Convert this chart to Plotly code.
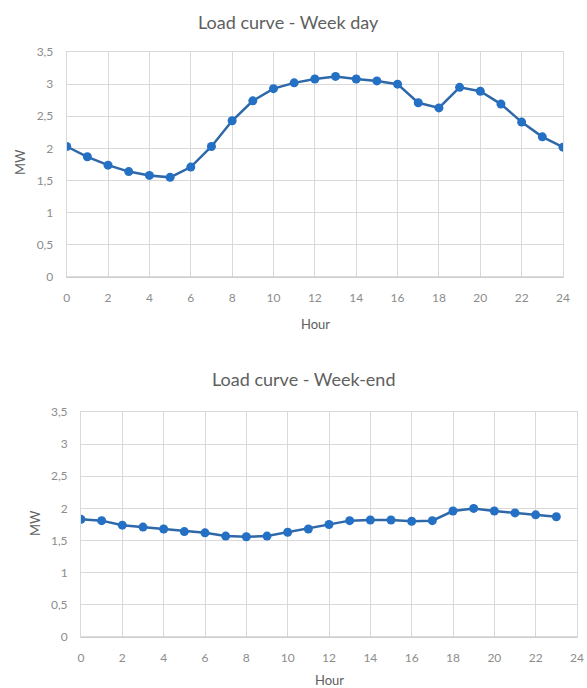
import plotly.graph_objects as go

hours_weekday = list(range(0, 25))
load_weekday = [2.03, 1.87, 1.74, 1.64, 1.58, 1.55, 1.71, 2.03, 2.43, 2.74, 2.93, 3.02, 3.08,
                3.12, 3.08, 3.05, 3.00, 2.71, 2.63, 2.95, 2.89, 2.69, 2.41, 2.18, 2.02]

hours_weekend = list(range(0, 24))
load_weekend = [1.83, 1.81, 1.74, 1.71, 1.68, 1.64, 1.62, 1.57, 1.56, 1.57, 1.63, 1.68,
                1.75, 1.81, 1.82, 1.82, 1.80, 1.81, 1.96, 2.00, 1.96, 1.93, 1.90, 1.87]

titles = ["Load curve - Week day", "Load curve - Week-end"]
x_title = "Hour"
y_title = "MW"

W, H = 587, 688
LINE = "#2F68A8"
MARK = "#2370C4"
GRID = "#D9D9D9"
TICK = "#8C8C8C"
TXT = "#606060"
FONT = "Lato"

fig = go.Figure()
fig.add_trace(go.Scatter(x=hours_weekday, y=load_weekday, mode="lines+markers",
                         line=dict(color=LINE, width=2.5),
                         marker=dict(color=MARK, size=9),
                         xaxis="x", yaxis="y", showlegend=False))
fig.add_trace(go.Scatter(x=hours_weekend, y=load_weekend, mode="lines+markers",
                         line=dict(color=LINE, width=2.5),
                         marker=dict(color=MARK, size=9),
                         xaxis="x2", yaxis="y2", showlegend=False))

def px_x(p):
    return p / W

def px_y(p):
    return 1 - p / H

axis_common = dict(showgrid=True, gridcolor=GRID, gridwidth=1, zeroline=False,
                   showline=True, linecolor=GRID, mirror=True, automargin=False,
                   tickfont=dict(family=FONT, size=12, color=TICK), fixedrange=True)

top = dict(x0=66.7, x1=563, y0=52, y1=277)
bot = dict(x0=81, x1=577, y0=412, y1=637)

fig.update_layout(
    width=W, height=H,
    margin=dict(l=0, r=0, t=0, b=0, autoexpand=False),
    paper_bgcolor="white", plot_bgcolor="white",
    separators=", ",
    font=dict(family=FONT, color=TXT),
    xaxis=dict(domain=[px_x(top["x0"]), px_x(top["x1"])], range=[0, 24], dtick=2,
               anchor="y", ticklabelstandoff=10, **axis_common),
    yaxis=dict(domain=[px_y(top["y1"]), px_y(top["y0"])], range=[0, 3.5], dtick=0.5,
               anchor="x", ticklabelstandoff=10, **axis_common),
    xaxis2=dict(domain=[px_x(bot["x0"]), px_x(bot["x1"])], range=[0, 24], dtick=2,
                anchor="y2", ticklabelstandoff=10, **axis_common),
    yaxis2=dict(domain=[px_y(bot["y1"]), px_y(bot["y0"])], range=[0, 3.5], dtick=0.5,
                anchor="x2", ticklabelstandoff=10, **axis_common),
)

# bottom axis lines slightly darker
for a, b in (("x", "y"), ("x2", "y2")):
    fig.add_shape(type="line", xref=f"{a} domain", yref=f"{b} domain",
                  x0=0, x1=1, y0=0, y1=0, line=dict(color="#BFBFBF", width=1))

def label(text, x, y, size, angle=0):
    return dict(text=text, x=px_x(x), y=px_y(y), xref="paper", yref="paper",
                xanchor="center", yanchor="middle", showarrow=False, textangle=angle,
                font=dict(size=size, color=TXT, family=FONT))

ann = [
    label(titles[0], 288, 22, 18),
    label(titles[1], 303, 379, 18),
    label(x_title, 315, 324, 13),
    label(x_title, 329, 680, 13),
    label(y_title, 20, 162, 13, -90),
    label(y_title, 35, 523, 13, -90),
]
fig.update_layout(annotations=ann)

fig.write_html("out.html")
